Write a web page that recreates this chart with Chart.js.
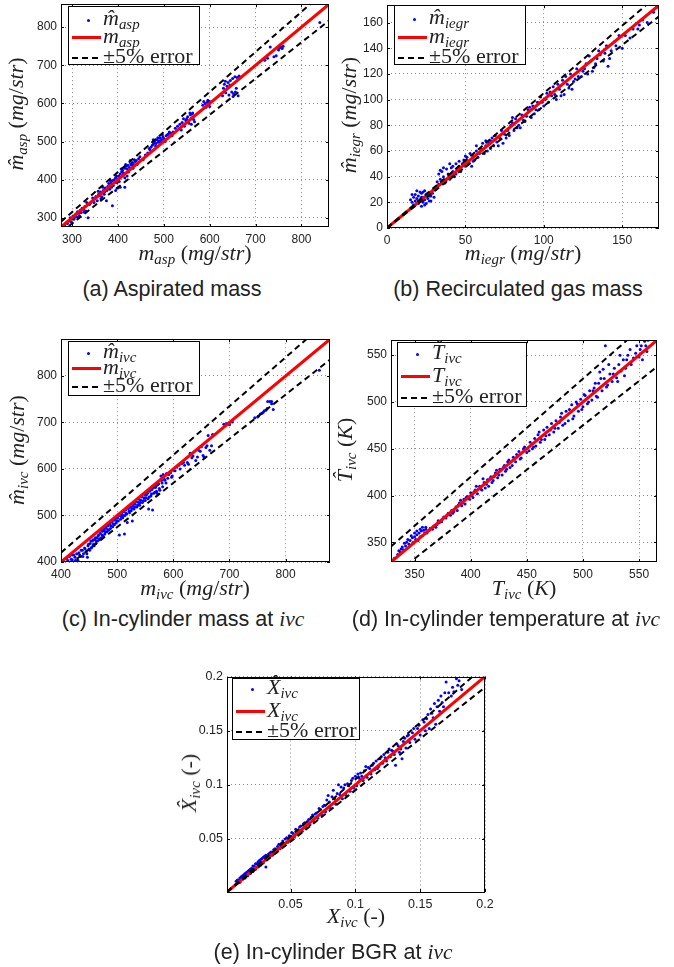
<!DOCTYPE html>
<html>
<head>
<meta charset="utf-8">
<script src="https://cdn.jsdelivr.net/npm/chart.js@4.4.1/dist/chart.umd.min.js"></script>
<style>
body { margin: 0; background: #fff; width: 674px; height: 967px; position: relative; overflow: hidden; }
canvas { position: absolute; }
.math { position: absolute; font-family: "Liberation Serif", "Times New Roman", serif; font-size: 22px; color: #222; white-space: nowrap; line-height: 1; }
.math i { font-style: italic; }
.math sub { font-size: 68%; vertical-align: -0.3em; font-style: italic; line-height: 0; }
.ylab { transform: translate(-50%, -50%) rotate(-90deg); }
.xlab { transform: translateX(-50%); }
.cap { position: absolute; font-family: "Liberation Sans", Arial, sans-serif; font-size: 21.5px; color: #222; white-space: nowrap; transform: translateX(-50%); line-height: 1; }
.cap i { font-family: "Liberation Serif", serif; font-style: italic; }
.leg { position: absolute; border: 1px solid #000; background: #fff; box-sizing: border-box; }
.row { position: absolute; left: 0; height: 22px; width: 100%; }
.row .txt { position: absolute; left: 34px; top: -2px; font-family: "Liberation Serif", serif; font-size: 22px; line-height: 22px; color: #222; white-space: nowrap; }
.row .txt sub { font-size: 68%; vertical-align: -0.3em; font-style: italic; line-height: 0; }
.dot { position: absolute; left: 18px; top: 10px; width: 3px; height: 3px; border-radius: 50%; background: #0000ff; }
.red { position: absolute; left: 3px; top: 9px; width: 29px; height: 3px; background: #ff0000; }
.dash { position: absolute; left: 3px; top: 10px; width: 29px; height: 2px;
  background: repeating-linear-gradient(90deg, #000 0 6px, transparent 6px 10px); }
</style>
</head>
<body>
<script>
// ---------- (a) aspirated mass ----------
const aspRange = [276, 860];
const aspTicks = [300, 400, 500, 600, 700, 800];
const aspPoints = [
  [284, 281], [290, 285], [295, 292], [298, 290], [300, 298], [302, 305], [305, 300], [308, 310], [310, 303], [312, 316],
  [315, 312], [318, 320], [320, 314], [322, 325], [325, 322], [328, 330], [330, 318], [335, 300], [338, 335], [332, 340],
  [350, 350], [352, 356], [355, 345], [358, 362], [360, 358], [362, 368], [365, 355], [368, 372], [370, 362], [372, 378],
  [375, 345], [378, 382], [380, 390], [382, 375], [385, 392], [388, 398], [388, 332], [390, 385], [392, 400], [395, 405],
  [398, 392], [400, 402], [402, 410], [395, 372], [400, 378], [405, 380], [415, 380],
  [405, 415], [408, 420], [410, 425], [412, 418], [415, 430], [418, 435], [420, 428], [422, 438], [425, 432], [428, 442],
  [430, 438], [432, 445], [435, 440], [438, 448], [440, 450], [445, 455], [415, 405], [420, 410],
  [460, 465], [465, 470], [470, 478], [472, 485], [475, 490], [478, 495], [480, 500], [482, 488], [485, 505], [488, 498],
  [490, 502], [492, 510], [495, 505], [498, 512], [500, 508], [505, 515], [508, 518], [510, 520], [515, 522], [518, 515],
  [530, 540], [535, 545], [540, 550], [545, 540], [548, 555], [550, 560], [552, 565], [555, 548], [558, 570], [560, 562],
  [562, 572], [565, 558], [560, 545], [585, 595], [590, 600], [592, 590], [595, 603], [598, 598], [600, 605],
  [628, 620], [630, 640], [632, 650], [635, 628], [638, 645], [640, 655], [642, 622], [645, 660], [648, 630], [650, 665],
  [652, 625], [655, 670], [658, 640], [660, 668], [662, 620],
  [720, 713], [726, 718], [732, 748], [740, 722], [745, 725], [750, 740], [752, 745], [755, 748], [758, 744], [760, 750],
  [840, 812],
  [296, 300], [304, 296], [316, 305], [326, 315], [340, 338], [345, 352], [348, 340], [357, 370], [363, 350], [367, 380],
  [371, 368], [376, 372], [383, 398], [386, 380], [393, 393], [397, 410], [403, 395], [407, 428], [411, 412], [417, 440],
  [423, 420], [427, 450], [433, 430], [436, 452], [442, 440], [448, 460], [455, 452], [468, 482], [477, 505], [483, 495],
  [487, 510], [493, 498], [497, 518], [503, 500], [512, 525], [520, 525], [525, 535], [538, 530], [543, 560], [557, 575],
  [563, 575], [567, 552], [587, 605], [596, 608], [600, 592], [634, 658], [644, 648], [651, 618], [656, 630], [664, 672]
];
const aspIdentity = [[276, 276], [860, 860]];
const aspUpper = [[276, 289.8], [860, 903]];
const aspLower = [[276, 262.2], [860, 817]];

// ---------- (b) recirculated gas mass ----------
const egrRange = [0, 173.5];
const egrTicksX = [0, 50, 100, 150];
const egrTicksY = [0, 20, 40, 60, 80, 100, 120, 140, 160];
const egrPoints = [
  [0, 0],
  [15, 22], [16, 20], [17, 24], [18, 21], [18, 26], [19, 23], [20, 19], [20, 25], [21, 28], [21, 22], [22, 17], [22, 27],
  [23, 24], [23, 20], [24, 29], [24, 22], [25, 26], [25, 19], [26, 23], [27, 25], [28, 21], [29, 27], [30, 24],
  [32, 36], [33, 42], [34, 38], [35, 44], [36, 40], [37, 35], [38, 46], [39, 42], [40, 38], [41, 47], [42, 44], [43, 40],
  [44, 50], [45, 46], [46, 52], [47, 44], [48, 50], [50, 48], [51, 55], [52, 51], [54, 48], [55, 56], [56, 53], [57, 60],
  [58, 55], [60, 62], [62, 58], [63, 64], [64, 60], [65, 66], [66, 62], [67, 70], [68, 64], [70, 67], [72, 70], [74, 66],
  [75, 73], [77, 76], [78, 72], [80, 82], [81, 76], [82, 85], [84, 80], [85, 78], [86, 88], [88, 83], [90, 92], [92, 86],
  [93, 95], [94, 89], [96, 98], [97, 92], [98, 102], [100, 95], [102, 105], [103, 98], [105, 103], [106, 110], [108, 100],
  [110, 108], [112, 115], [113, 104], [115, 112], [117, 120], [118, 108], [120, 116], [122, 118], [125, 122], [127, 128],
  [128, 120], [130, 130], [132, 125], [134, 132], [136, 135], [138, 130], [140, 142], [141, 126], [143, 138], [145, 145],
  [150, 140], [152, 150], [155, 148], [160, 155], [163, 162], [166, 160], [170, 168], [172, 172],
  [16, 26], [17, 18], [19, 29], [20, 21], [22, 24], [23, 28], [24, 18], [26, 27], [27, 21], [28, 25], [31, 30], [33, 34],
  [34, 45], [36, 47], [38, 38], [40, 50], [42, 48], [44, 42], [46, 48], [49, 53], [50, 56], [53, 58], [55, 52], [57, 64],
  [59, 58], [61, 66], [63, 68], [66, 68], [69, 72], [71, 64], [73, 76], [76, 70], [79, 80], [80, 86], [83, 78], [87, 84],
  [89, 87], [91, 94], [95, 92], [99, 98], [101, 100], [104, 106], [107, 104], [109, 112], [111, 103], [114, 118],
  [116, 109], [119, 114], [121, 124], [124, 118], [126, 124], [129, 134], [131, 122], [133, 128], [135, 138], [139, 136],
  [142, 132], [146, 142], [148, 150], [157, 155], [161, 158]
];
const egrIdentity = [[0, 0], [173.5, 173.5]];
const egrUpper = [[0, 0], [173.5, 182.2]];
const egrLower = [[0, 0], [173.5, 164.8]];

// ---------- (c) in-cylinder mass ----------
const ivcRange = [400, 879];
const ivcTicks = [400, 500, 600, 700, 800];
const ivcPoints = [
  [405, 401], [410, 408], [412, 403], [415, 412], [418, 406], [420, 415], [425, 410], [428, 418], [430, 404], [432, 420],
  [435, 412], [438, 425], [440, 418], [442, 430], [445, 422], [447, 410], [448, 435], [450, 428], [452, 440], [455, 432],
  [456, 445], [458, 438], [460, 448], [462, 440], [464, 452], [465, 445], [467, 458], [468, 448], [470, 462], [472, 452],
  [474, 466], [475, 456], [477, 470], [478, 460], [480, 474], [482, 465], [484, 478], [485, 468], [487, 482], [488, 472],
  [490, 486], [492, 476], [494, 490], [495, 480], [497, 494], [498, 484], [500, 498], [502, 488], [504, 458], [505, 500],
  [506, 492], [508, 504], [510, 495], [512, 508], [513, 460], [514, 500], [515, 512], [517, 503], [518, 485], [520, 515],
  [522, 506], [524, 518], [525, 510], [527, 488], [528, 520], [530, 514], [532, 524], [535, 518], [538, 528], [540, 522],
  [542, 533], [545, 528], [548, 538], [550, 532], [552, 544], [555, 536], [558, 552], [560, 542], [562, 556], [565, 548],
  [568, 560], [570, 552], [572, 566], [575, 558], [578, 585], [580, 570], [582, 588], [585, 576], [588, 590], [590, 580],
  [595, 592], [598, 585], [600, 598], [610, 608], [615, 612], [620, 608], [625, 614], [630, 634], [635, 628], [640, 618],
  [645, 640], [650, 648], [655, 625], [660, 650], [662, 672], [665, 640], [670, 674], [690, 696], [695, 698], [700, 700],
  [705, 701], [745, 710], [750, 712], [755, 718], [760, 722], [765, 726], [768, 745], [772, 745], [775, 740], [860, 812],
  [420, 405], [423, 415], [426, 404], [433, 415], [436, 425], [439, 412], [443, 428], [446, 418], [449, 438], [451, 425],
  [453, 445], [454, 430], [457, 448], [459, 435], [461, 452], [463, 445], [466, 456], [469, 450], [471, 468], [473, 458],
  [476, 470], [479, 465], [481, 478], [483, 470], [486, 482], [489, 478], [491, 489], [493, 482], [496, 492], [499, 488],
  [501, 495], [503, 502], [507, 498], [509, 508], [511, 500], [516, 505], [519, 518], [521, 510], [523, 522], [526, 515],
  [529, 525], [531, 518], [534, 530], [537, 522], [539, 535], [541, 528], [544, 540], [547, 532], [549, 545], [551, 538],
  [554, 548], [556, 514], [557, 540], [559, 556], [561, 546], [563, 512], [564, 560], [567, 550], [569, 563], [571, 548],
  [574, 568], [576, 554], [579, 575], [581, 562], [584, 578], [587, 570], [592, 588], [597, 582], [603, 596], [606, 604],
  [612, 600], [618, 614], [627, 610], [633, 624], [643, 626], [648, 638], [653, 629], [658, 646], [668, 650], [700, 695],
  [752, 714], [758, 720], [762, 725], [767, 730], [775, 745], [778, 728]
];
const ivcIdentity = [[400, 400], [879, 879]];
const ivcUpper = [[400, 420], [879, 923]];
const ivcLower = [[400, 380], [879, 835]];

// ---------- (d) in-cylinder temperature ----------
const tRange = [329, 566];
const tTicks = [350, 400, 450, 500, 550];
const tPoints = [
  [332, 333], [335, 337], [337, 340], [338, 343], [340, 342], [342, 346], [343, 350], [345, 348], [346, 352], [348, 355],
  [349, 350], [350, 356], [351, 353], [352, 358], [353, 352], [354, 360], [355, 356], [356, 362], [357, 357], [358, 363],
  [359, 360], [360, 364], [362, 362], [364, 365], [366, 364], [368, 368], [370, 369], [372, 371], [374, 372], [376, 377],
  [378, 376], [380, 381], [382, 379], [383, 384], [385, 383], [387, 388], [388, 384], [390, 392], [392, 389], [394, 396],
  [395, 391], [397, 399], [399, 396], [400, 403], [402, 398], [404, 406], [406, 402], [408, 410], [410, 406], [412, 414],
  [413, 408], [415, 417], [416, 410], [418, 420], [420, 416], [422, 424], [424, 419], [426, 428], [428, 422], [430, 432],
  [431, 426], [433, 436], [435, 430], [438, 441], [440, 436], [443, 447], [445, 440], [448, 452], [450, 446], [453, 457],
  [455, 450], [457, 461], [458, 453], [460, 465], [462, 457], [465, 470], [466, 460], [468, 473], [470, 465], [472, 477],
  [474, 468], [476, 480], [478, 472], [480, 484], [482, 475], [485, 490], [487, 480], [490, 497], [492, 485], [494, 500],
  [496, 490], [498, 503], [500, 495], [502, 507], [504, 498], [506, 512], [508, 502], [510, 515], [512, 506], [514, 520],
  [515, 532], [517, 512], [519, 525], [520, 560], [522, 518], [524, 530], [526, 522], [528, 536], [530, 526], [532, 540],
  [534, 533], [536, 545], [538, 536], [540, 550], [542, 556], [545, 547], [548, 560], [550, 548], [552, 560], [555, 565],
  [557, 554],
  [336, 341], [339, 345], [341, 349], [344, 353], [347, 357], [350, 360], [352, 362], [355, 364], [357, 366], [360, 366],
  [361, 360], [363, 363], [367, 367], [369, 366], [371, 373], [375, 375], [379, 379], [384, 381], [386, 386], [389, 390],
  [391, 395], [393, 392], [396, 398], [401, 400], [403, 404], [405, 410], [409, 407], [411, 418], [414, 412], [417, 418],
  [419, 414], [421, 420], [423, 427], [425, 422], [429, 430], [432, 428], [434, 438], [437, 432], [441, 444], [444, 439],
  [447, 450], [452, 448], [456, 452], [461, 468], [463, 460], [467, 464], [471, 470], [475, 472], [479, 478], [481, 488],
  [484, 477], [488, 492], [491, 482], [495, 498], [499, 492], [501, 508], [505, 500], [509, 512], [511, 520], [513, 505],
  [516, 525], [518, 535], [521, 516], [523, 540], [527, 530], [531, 522], [533, 550], [537, 528], [539, 545], [543, 540],
  [547, 552], [551, 556], [553, 545], [556, 560], [558, 566]
];
const tIdentity = [[329, 329], [566, 566]];
const tUpper = [[329, 345.5], [566, 594]];
const tLower = [[329, 312.6], [566, 537.7]];

// ---------- (e) in-cylinder BGR ----------
const bgrRange = [0.001, 0.2];
const bgrTicks = [0.05, 0.1, 0.15, 0.2];
const bgrPoints = [
  [0.004, 0.004], [0.008, 0.011], [0.010, 0.012], [0.011, 0.010], [0.012, 0.015], [0.013, 0.013], [0.014, 0.017],
  [0.015, 0.014], [0.016, 0.019], [0.017, 0.016], [0.018, 0.021], [0.019, 0.018], [0.020, 0.023], [0.021, 0.020],
  [0.022, 0.025], [0.023, 0.022], [0.024, 0.027], [0.025, 0.024], [0.026, 0.030], [0.027, 0.026], [0.028, 0.032],
  [0.029, 0.028], [0.030, 0.034], [0.031, 0.024], [0.032, 0.033], [0.033, 0.036], [0.035, 0.038], [0.036, 0.035],
  [0.038, 0.041], [0.039, 0.038], [0.040, 0.043], [0.042, 0.041], [0.043, 0.046], [0.045, 0.044], [0.046, 0.050],
  [0.048, 0.047], [0.049, 0.053], [0.050, 0.050], [0.052, 0.055], [0.053, 0.052], [0.055, 0.058], [0.056, 0.055],
  [0.058, 0.062], [0.059, 0.057], [0.060, 0.064], [0.062, 0.060], [0.063, 0.066], [0.065, 0.063], [0.066, 0.070],
  [0.068, 0.066], [0.070, 0.074], [0.071, 0.069], [0.073, 0.077], [0.074, 0.072], [0.076, 0.081], [0.077, 0.075],
  [0.079, 0.090], [0.080, 0.084], [0.081, 0.078], [0.083, 0.095], [0.084, 0.087], [0.085, 0.082], [0.087, 0.100],
  [0.088, 0.091], [0.090, 0.087], [0.091, 0.097], [0.093, 0.090], [0.094, 0.101], [0.096, 0.094], [0.097, 0.104],
  [0.099, 0.097], [0.100, 0.108], [0.101, 0.099], [0.103, 0.106], [0.104, 0.111], [0.106, 0.104], [0.107, 0.113],
  [0.109, 0.107], [0.110, 0.116], [0.112, 0.110], [0.113, 0.118], [0.115, 0.114], [0.116, 0.122], [0.118, 0.117],
  [0.119, 0.124], [0.121, 0.120], [0.122, 0.128], [0.124, 0.122], [0.125, 0.130], [0.127, 0.126], [0.128, 0.132],
  [0.130, 0.128], [0.131, 0.118], [0.133, 0.136], [0.134, 0.130], [0.136, 0.124], [0.137, 0.140], [0.139, 0.134],
  [0.140, 0.145], [0.142, 0.139], [0.144, 0.148], [0.146, 0.142], [0.148, 0.152], [0.150, 0.146], [0.152, 0.160],
  [0.154, 0.150], [0.156, 0.165], [0.157, 0.152], [0.158, 0.170], [0.160, 0.162], [0.161, 0.175], [0.162, 0.156],
  [0.164, 0.178], [0.165, 0.168], [0.166, 0.182], [0.168, 0.172], [0.170, 0.195], [0.172, 0.185], [0.175, 0.190],
  [0.178, 0.198], [0.180, 0.196], [0.182, 0.188],
  [0.009, 0.012], [0.011, 0.014], [0.013, 0.016], [0.015, 0.018], [0.017, 0.020], [0.019, 0.022], [0.021, 0.025],
  [0.023, 0.027], [0.025, 0.029], [0.027, 0.031], [0.029, 0.033], [0.031, 0.035], [0.034, 0.037], [0.037, 0.040],
  [0.041, 0.045], [0.044, 0.048], [0.047, 0.051], [0.051, 0.056], [0.054, 0.059], [0.057, 0.061], [0.061, 0.065],
  [0.064, 0.068], [0.067, 0.072], [0.069, 0.073], [0.072, 0.078], [0.075, 0.080], [0.078, 0.086], [0.082, 0.089],
  [0.086, 0.092], [0.089, 0.098], [0.092, 0.100], [0.095, 0.099], [0.098, 0.106], [0.102, 0.110], [0.105, 0.108],
  [0.108, 0.117], [0.111, 0.115], [0.114, 0.120], [0.117, 0.115], [0.120, 0.126], [0.123, 0.125], [0.126, 0.133],
  [0.129, 0.131], [0.132, 0.138], [0.135, 0.133], [0.138, 0.143], [0.141, 0.146], [0.145, 0.152], [0.149, 0.155],
  [0.153, 0.158], [0.155, 0.161], [0.159, 0.166], [0.163, 0.172], [0.167, 0.176], [0.169, 0.185], [0.174, 0.182],
  [0.176, 0.186], [0.179, 0.192]
];
const bgrIdentity = [[0.001, 0.001], [0.2, 0.2]];
const bgrUpper = [[0.001, 0.00105], [0.2, 0.21]];
const bgrLower = [[0.001, 0.00095], [0.2, 0.19]];

// box plugin: full frame plus small inward ticks (matlab look)
const framePlugin = {
  id: 'frame',
  afterDraw(chart) {
    const { ctx, chartArea: a, scales } = chart;
    ctx.save();
    ctx.strokeStyle = '#000';
    ctx.lineWidth = 1;
    ctx.strokeRect(Math.round(a.left) + 0.5, Math.round(a.top) + 0.5, Math.round(a.right - a.left) - 1, Math.round(a.bottom - a.top) - 1);
    ctx.beginPath();
    scales.x.ticks.forEach(t => {
      const px = Math.round(scales.x.getPixelForValue(t.value)) + 0.5;
      ctx.moveTo(px, a.bottom); ctx.lineTo(px, a.bottom - 3);
      ctx.moveTo(px, a.top); ctx.lineTo(px, a.top + 3);
    });
    scales.y.ticks.forEach(t => {
      const py = Math.round(scales.y.getPixelForValue(t.value)) + 0.5;
      ctx.moveTo(a.left, py); ctx.lineTo(a.left + 3, py);
      ctx.moveTo(a.right, py); ctx.lineTo(a.right - 3, py);
    });
    ctx.stroke();
    ctx.restore();
  }
};

const toXY = arr => arr.map(p => ({ x: p[0], y: p[1] }));

function drawPanel(p) {
  const padL = 50, padT = 9, padR = 16, padB = 24;
  const cv = document.createElement('canvas');
  const w = p.box.r - p.box.l + padL + padR;
  const h = p.box.b - p.box.t + padT + padB;
  cv.width = w; cv.height = h;
  cv.style.left = (p.box.l - padL) + 'px';
  cv.style.top = (p.box.t - padT) + 'px';
  cv.style.width = w + 'px'; cv.style.height = h + 'px';
  document.body.appendChild(cv);

  const tickFont = { family: '"Liberation Sans", Arial, sans-serif', size: p.tickSize };
  const axis = (ticks, isX) => ({
    type: 'linear',
    min: p.range[0], max: p.range[1],
    afterBuildTicks: s => { s.ticks = ticks.map(v => ({ value: v })); },
    afterFit: s => { if (isX) s.height = padB; else s.width = padL; },
    grid: { color: '#8a8a8a', lineWidth: 1, drawTicks: false },
    border: { display: false, dash: [1, 3] },
    ticks: { font: tickFont, color: '#222', padding: isX ? 5 : 4, autoSkip: false, maxRotation: 0, callback: v => String(v) }
  });

  new Chart(cv.getContext('2d'), {
    type: 'scatter',
    data: {
      datasets: [
        { data: toXY(p.points), backgroundColor: '#0000ff', borderWidth: 0, pointRadius: 1.5, order: 3 },
        { data: toXY(p.identity), showLine: true, borderColor: '#ff0000', borderWidth: 3, pointRadius: 0, order: 2 },
        { data: toXY(p.upper), showLine: true, borderColor: '#000', borderWidth: 2, borderDash: [6, 4], pointRadius: 0, order: 1 },
        { data: toXY(p.lower), showLine: true, borderColor: '#000', borderWidth: 2, borderDash: [6, 4], pointRadius: 0, order: 1 }
      ]
    },
    options: {
      responsive: false,
      animation: false,
      devicePixelRatio: 1,
      layout: { padding: { left: 0, top: padT, right: padR, bottom: 0 } },
      plugins: { legend: { display: false }, tooltip: { enabled: false } },
      scales: { x: axis(p.xTicks, true), y: axis(p.yTicks, false) }
    },
    plugins: [framePlugin]
  });
}

function addHtml(html) {
  const d = document.createElement('div');
  d.innerHTML = html;
  while (d.firstChild) document.body.appendChild(d.firstChild);
}

// rows = centre of each legend sample, measured from the box top
function legendBox(l, t, w, h, rows, est, meas) {
  const r = rows.map(c => c - 11);
  addHtml(
    `<div class="leg" style="left:${l}px;top:${t}px;width:${w}px;height:${h}px">` +
    `<div class="row" style="top:${r[0]}px"><span class="dot"></span><span class="txt">${est}</span></div>` +
    `<div class="row" style="top:${r[1]}px"><span class="red"></span><span class="txt">${meas}</span></div>` +
    `<div class="row" style="top:${r[2]}px"><span class="dash"></span><span class="txt">±5% error</span></div>` +
    `</div>`);
}

const panels = [
  { box: { l: 61, t: 2, r: 329, b: 227 }, range: aspRange, xTicks: aspTicks, yTicks: aspTicks, points: aspPoints,
    identity: aspIdentity, upper: aspUpper, lower: aspLower, tickSize: 12 },
  { box: { l: 387, t: 3, r: 659, b: 228 }, range: egrRange, xTicks: egrTicksX, yTicks: egrTicksY, points: egrPoints,
    identity: egrIdentity, upper: egrUpper, lower: egrLower, tickSize: 12 },
  { box: { l: 61, t: 337, r: 330, b: 562 }, range: ivcRange, xTicks: ivcTicks, yTicks: ivcTicks, points: ivcPoints,
    identity: ivcIdentity, upper: ivcUpper, lower: ivcLower, tickSize: 12 },
  { box: { l: 391, t: 338, r: 657, b: 562 }, range: tRange, xTicks: tTicks, yTicks: tTicks, points: tPoints,
    identity: tIdentity, upper: tUpper, lower: tLower, tickSize: 12 },
  { box: { l: 227, t: 674, r: 485, b: 892 }, range: bgrRange, xTicks: bgrTicks, yTicks: bgrTicks, points: bgrPoints,
    identity: bgrIdentity, upper: bgrUpper, lower: bgrLower, tickSize: 12.5 }
];
panels.forEach(drawPanel);

// math-style labels
const mHat = s => `<i>m&#770;</i><sub>${s}</sub>`;
const mSub = s => `<i>m</i><sub>${s}</sub>`;
const unit = '(<i>mg</i>/<i>str</i>)';

addHtml(`<div class="math xlab" style="left:195px;top:242px">${mSub('asp')} ${unit}</div>`);
addHtml(`<div class="math ylab" style="left:16px;top:114px">${mHat('asp')} ${unit}</div>`);
addHtml(`<div class="math xlab" style="left:523px;top:242px">${mSub('iegr')} ${unit}</div>`);
addHtml(`<div class="math ylab" style="left:349px;top:115px">${mHat('iegr')} ${unit}</div>`);
addHtml(`<div class="math xlab" style="left:195px;top:577px">${mSub('ivc')} ${unit}</div>`);
addHtml(`<div class="math ylab" style="left:17px;top:450px">${mHat('ivc')} ${unit}</div>`);
addHtml(`<div class="math xlab" style="left:524px;top:577px"><i>T</i><sub>ivc</sub> (<i>K</i>)</div>`);
addHtml(`<div class="math ylab" style="left:345px;top:450px"><i>T&#770;</i><sub>ivc</sub> (<i>K</i>)</div>`);
addHtml(`<div class="math xlab" style="left:356px;top:905px"><i>X</i><sub>ivc</sub> (-)</div>`);
addHtml(`<div class="math ylab" style="left:189px;top:783px"><i>X&#770;</i><sub>ivc</sub> (-)</div>`);

// captions
addHtml(`<div class="cap" style="left:172px;top:279px">(a) Aspirated mass</div>`);
addHtml(`<div class="cap" style="left:518px;top:279px">(b) Recirculated gas mass</div>`);
addHtml(`<div class="cap" style="left:183px;top:609px">(c) In-cylinder mass at <i>ivc</i></div>`);
addHtml(`<div class="cap" style="left:506px;top:609px">(d) In-cylinder temperature at <i>ivc</i></div>`);
addHtml(`<div class="cap" style="left:333px;top:942px">(e) In-cylinder BGR at <i>ivc</i></div>`);

// legends
legendBox(68, 6, 132, 59, [13, 31, 51], mHat('asp'), mSub('asp'));
legendBox(394, 5, 132, 60, [13, 32, 52], mHat('iegr'), mSub('iegr'));
legendBox(68, 341, 132, 55, [11, 27, 45], mHat('ivc'), mSub('ivc'));
legendBox(397, 342, 130, 65, [11, 34, 55], '<i>T&#770;</i><sub>ivc</sub>', '<i>T</i><sub>ivc</sub>');
legendBox(232, 678, 128, 62, [10, 33, 53], '<i>X&#770;</i><sub>ivc</sub>', '<i>X</i><sub>ivc</sub>');
</script>
</body>
</html>
